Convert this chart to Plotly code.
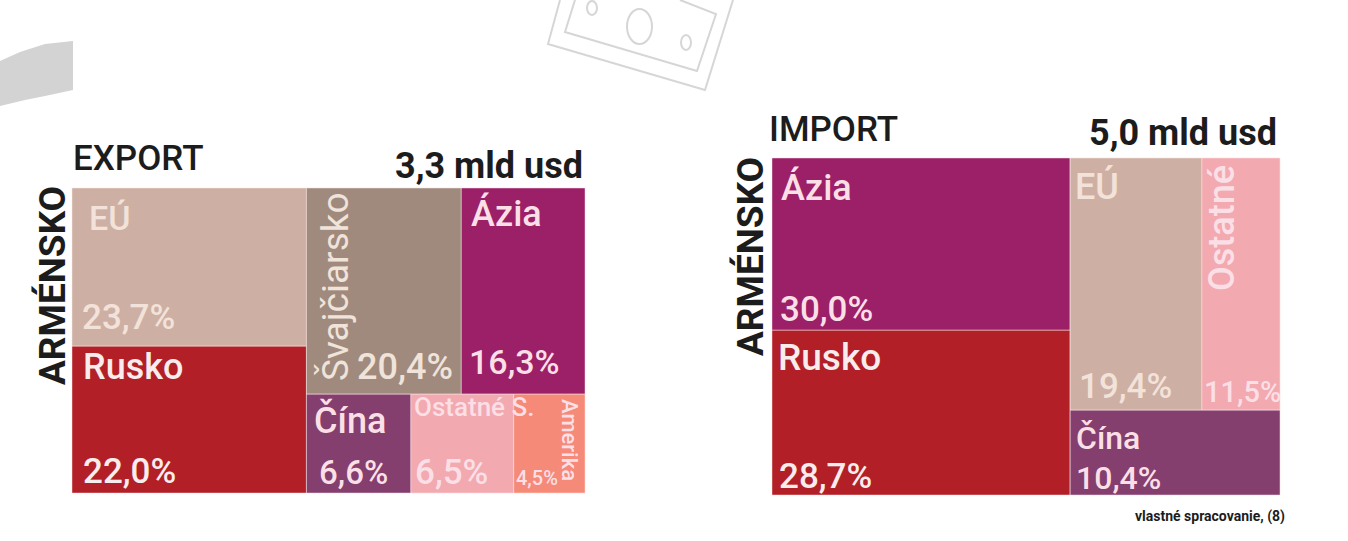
import plotly.graph_objects as go

W, H = 1348, 541

# ---- data ----
export_names = ["EÚ", "Rusko", "Švajčiarsko", "Ázia", "Čína", "Ostatné S.", "Amerika"]
export_values = [23.7, 22.0, 20.4, 16.3, 6.6, 6.5, 4.5]
export_parents = ["a", "a", "b1", "b1", "b2", "b2", "b2"]
export_groups = ["a", "b", "b1", "b2"]
export_group_parents = ["root", "root", "b", "b"]

import_names = ["Ázia", "Rusko", "EÚ", "Ostatné", "Čína"]
import_values = [30.0, 28.7, 19.4, 11.5, 10.4]
import_parents = ["a", "a", "b1", "b1", "b2"]
import_groups = ["a", "b", "b1", "b2"]
import_group_parents = ["root", "root", "b", "b"]

export_title, export_total = "EXPORT", "3,3 mld usd"
import_title, import_total = "IMPORT", "5,0 mld usd"
country = "ARMÉNSKO"
source = "vlastné spracovanie, (8)"

# ---- styles ----
export_colors = ["#cdb0a3", "#b21f27", "#a08a7e", "#9b2068", "#843f6e", "#f3a9b0", "#f58a78"]
import_colors = ["#9b2068", "#b21f27", "#cdb0a3", "#f3a9b0", "#843f6e"]
FONT = "Roboto, sans-serif"
CLEAR = "rgba(0,0,0,0)"


def px(x, y):
    return x / W, 1 - y / H


def pct(v):
    return f"{v:.1f}%".replace(".", ",")


def treemap(names, values, parents, groups, gparents, colors, x0, x1, y0, y1):
    ids = ["root"] + groups + [f"leaf{i}" for i in range(len(names))]
    labels = [""] * (1 + len(groups)) + names
    par = [""] + gparents + parents
    vals = [0] * (1 + len(groups)) + values
    cols = [CLEAR] * (1 + len(groups)) + colors
    return go.Treemap(
        ids=ids, labels=labels, parents=par, values=vals,
        branchvalues="remainder", textinfo="none", hoverinfo="skip", sort=False,
        opacity=1,
        domain=dict(x=[x0 / W, x1 / W], y=[1 - y1 / H, 1 - y0 / H]),
        marker=dict(colors=cols, line=dict(width=1, color="rgba(255,235,235,0.45)"),
                    pad=dict(t=0, l=0, r=0, b=0), depthfade=False),
        root=dict(color=CLEAR),
        pathbar=dict(visible=False),
        tiling=dict(packing="slice-dice", pad=0),
    )


fig = go.Figure()
fig.add_trace(treemap(export_names, export_values, export_parents, export_groups,
                      export_group_parents, export_colors, 72, 585, 188, 493))
fig.add_trace(treemap(import_names, import_values, import_parents, import_groups,
                      import_group_parents, import_colors, 772, 1280, 158, 495))

WH = "#f8ecec"
SOFT = "#f3e2da"
PINK = "#fbdfe6"


def text(t, x, y, size=34, color=WH, angle=0, xanchor="left", weight=500):
    ax, ay = px(x, y)
    fig.add_annotation(
        text=t, x=ax, y=ay, xref="paper", yref="paper",
        showarrow=False, textangle=angle, xanchor=xanchor, yanchor="middle",
        font=dict(family=FONT, size=size, color=color, weight=weight), borderpad=0,
    )


e = dict(zip(export_names, export_values))
m = dict(zip(import_names, import_values))

# export labels
text("EÚ", 88, 218, 34, SOFT)
text(pct(e["EÚ"]), 81, 317, 35, SOFT)
text("Rusko", 82, 367, 36)
text(pct(e["Rusko"]), 82, 471, 35)
text("Švajčiarsko", 335, 287, 37, "#efe3da", angle=-90, xanchor="center", weight=400)
text(pct(e["Švajčiarsko"]), 356, 367, 36, "#efe3da")
text("Ázia", 470, 213, 36, PINK)
text(pct(e["Ázia"]), 468, 362, 34, PINK)
text("Čína", 313, 420, 36, PINK)
text(pct(e["Čína"]), 318, 472, 33, PINK)
text("Ostatné S.", 413, 407, 26, PINK)
text(pct(e["Ostatné S."]), 414, 472, 35, PINK)
text("Amerika", 570, 440, 22, PINK, angle=90, xanchor="center")
text(pct(e["Amerika"]), 515, 478, 20, PINK)

# import labels
text("Ázia", 780, 188, 36, PINK)
text(pct(m["Ázia"]), 779, 309, 35, PINK)
text("Rusko", 777, 357, 37)
text(pct(m["Rusko"]), 778, 477, 35)
text("EÚ", 1074, 187, 36, SOFT)
text(pct(m["EÚ"]), 1078, 386, 35, SOFT)
text("Ostatné", 1222, 228, 36, PINK, angle=-90, xanchor="center")
text(pct(m["Ostatné"]), 1203, 392, 29, PINK)
text("Čína", 1075, 438, 32, PINK)
text(pct(m["Čína"]), 1075, 478, 32, PINK)

# titles
BLACK = "#1c1c1c"
text(export_title, 72, 159, 35, BLACK)
text(export_total, 584, 166, 36, BLACK, xanchor="right", weight=700)
text(import_title, 768, 130, 35, BLACK)
text(import_total, 1278, 133, 36, BLACK, xanchor="right", weight=700)
text(country, 52, 286, 37, BLACK, angle=-90, xanchor="center", weight=700)
text(country, 750, 256, 37, BLACK, angle=-90, xanchor="center", weight=700)
text(source, 1286, 516, 14, BLACK, xanchor="right", weight=700)

# background decoration: grey blob and banknote outline
ICON = "#d6d6d6"


def path(points, close=False):
    parts = []
    for i, (x, y) in enumerate(points):
        ax, ay = px(x, y)
        parts.append(("M" if i == 0 else "L") + f"{ax:.5f},{ay:.5f}")
    return " ".join(parts) + (" Z" if close else "")


def ring(x0, x1, y0, y1):
    a0, b0 = px(x0, y0)
    a1, b1 = px(x1, y1)
    return dict(type="circle", xref="paper", yref="paper", x0=a0, x1=a1, y0=b0, y1=b1,
                line=dict(color=ICON, width=2), layer="below")


shapes = [
    dict(type="path", xref="paper", yref="paper", layer="below",
         path=path([(0, 61), (20, 52), (45, 44), (73, 41), (73, 90), (45, 96), (25, 100), (0, 106)], True),
         fillcolor="#d3d3d3", line_width=0),
    dict(type="path", xref="paper", yref="paper", layer="below",
         path=path([(560, 0), (548, 44), (705, 90), (733, 0)]), line=dict(color=ICON, width=2), fillcolor=CLEAR),
    dict(type="path", xref="paper", yref="paper", layer="below",
         path=path([(575, 0), (565, 32), (697, 71), (716, 14), (680, 0)]), line=dict(color=ICON, width=2), fillcolor=CLEAR),
    ring(587, 597, 1, 15),
    ring(627, 652, 9, 44),
    ring(681, 691, 35, 50),
]

fig.update_layout(
    width=W, height=H, margin=dict(l=0, r=0, t=0, b=0),
    paper_bgcolor="white", showlegend=False,
    shapes=shapes,
)
fig.write_html("out.html", config={"displayModeBar": False},
               post_script="document.body.style.margin='0';document.body.style.overflow='hidden';")
